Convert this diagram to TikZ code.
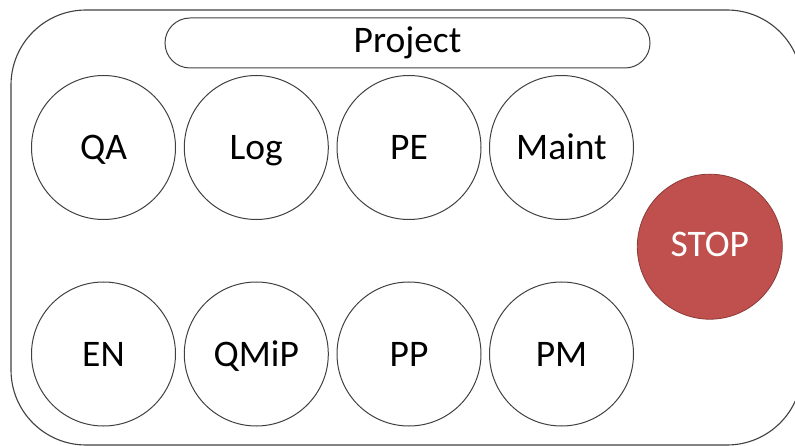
\documentclass[tikz,border=0pt]{standalone}
\usepackage{fontspec}
\setmainfont{Carlito}
\definecolor{stopred}{HTML}{C0504D}
\definecolor{stopedge}{HTML}{8C3A38}
\definecolor{edgegray}{HTML}{404040}
\begin{document}
\begin{tikzpicture}[x=1pt,y=-1pt,
  labelfont/.style={font=\fontsize{37.5}{40}\selectfont},
  unit/.style={circle, draw=edgegray, line width=1pt, minimum size=144pt, inner sep=0pt,
    labelfont, text height=30pt, text depth=6pt},
  stopsign/.style={circle, draw=stopedge, line width=0.8pt, fill=stopred, text=white,
    minimum size=145pt, inner sep=0pt, labelfont, text height=28pt, text depth=8pt},
  banner/.style={draw=edgegray, line width=1pt, rounded corners=25pt, minimum width=485pt,
    minimum height=50pt, inner sep=0pt, labelfont, text height=28pt, text depth=8pt}]
  \useasboundingbox (0,0) rectangle (795,446);
  \clip (0,0) rectangle (795,446);
  % outer container
  \draw[edgegray, line width=1.1pt, rounded corners=75pt] (11,10) rectangle (802,445);
  % header
  \node[banner] (project) at (407.5,43) {Project};
  % top row
  \node[unit] (qa)    at (103.5,147.5) {QA};
  \node[unit] (log)   at (256.3,147.5) {Log};
  \node[unit] (pe)    at (409,147.5)   {PE};
  \node[unit] (maint) at (561.5,147.5) {Maint};
  % bottom row
  \node[unit] (en)    at (103.5,354) {EN};
  \node[unit] (qmip)  at (256.3,354) {QMiP};
  \node[unit] (pp)    at (409,354)   {PP};
  \node[unit] (pm)    at (561.5,354) {PM};
  % stop marker
  \node[stopsign] (stop) at (709.8,246.7) {STOP};
\end{tikzpicture}
\end{document}
